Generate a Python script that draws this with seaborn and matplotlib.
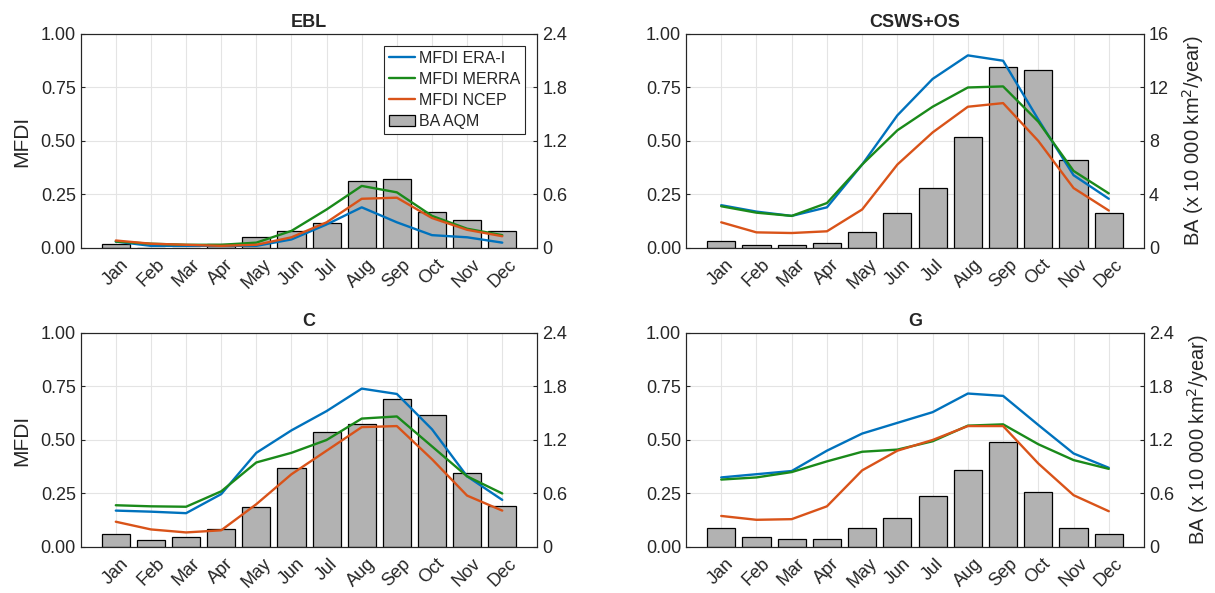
import numpy as np
import matplotlib
matplotlib.use('Agg')
import matplotlib.pyplot as plt
import seaborn as sns
from matplotlib.patches import Patch

months = ['Jan', 'Feb', 'Mar', 'Apr', 'May', 'Jun', 'Jul', 'Aug', 'Sep', 'Oct', 'Nov', 'Dec']

# EBL
ebl_era = [0.03, 0.01, 0.01, 0.01, 0.01, 0.04, 0.11, 0.19, 0.12, 0.06, 0.05, 0.025]
ebl_merra = [0.03, 0.02, 0.015, 0.015, 0.025, 0.08, 0.18, 0.29, 0.26, 0.15, 0.09, 0.06]
ebl_ncep = [0.035, 0.02, 0.015, 0.01, 0.015, 0.05, 0.12, 0.23, 0.235, 0.14, 0.085, 0.055]
ebl_ba = [0.04, 0.005, 0.005, 0.04, 0.12, 0.19, 0.28, 0.75, 0.77, 0.40, 0.31, 0.19]

# CSWS+OS
csws_era = [0.20, 0.17, 0.15, 0.19, 0.39, 0.62, 0.79, 0.90, 0.875, 0.60, 0.34, 0.23]
csws_merra = [0.195, 0.165, 0.15, 0.21, 0.39, 0.55, 0.66, 0.75, 0.755, 0.59, 0.36, 0.255]
csws_ncep = [0.12, 0.073, 0.07, 0.078, 0.18, 0.39, 0.54, 0.66, 0.677, 0.50, 0.28, 0.175]
csws_ba = [0.5, 0.2, 0.2, 0.37, 1.17, 2.6, 4.5, 8.3, 13.55, 13.3, 6.55, 2.6]

# C
c_era = [0.17, 0.165, 0.158, 0.247, 0.44, 0.545, 0.635, 0.74, 0.715, 0.55, 0.33, 0.22]
c_merra = [0.195, 0.19, 0.188, 0.26, 0.395, 0.44, 0.50, 0.60, 0.61, 0.47, 0.33, 0.25]
c_ncep = [0.118, 0.082, 0.068, 0.078, 0.20, 0.34, 0.45, 0.56, 0.565, 0.41, 0.24, 0.17]
c_ba = [0.14, 0.075, 0.11, 0.20, 0.45, 0.89, 1.29, 1.38, 1.66, 1.48, 0.83, 0.465]

# G
g_era = [0.325, 0.34, 0.355, 0.45, 0.53, 0.58, 0.63, 0.717, 0.706, 0.57, 0.437, 0.37]
g_merra = [0.315, 0.325, 0.35, 0.40, 0.445, 0.455, 0.494, 0.567, 0.573, 0.48, 0.406, 0.365]
g_ncep = [0.145, 0.127, 0.13, 0.19, 0.358, 0.45, 0.50, 0.565, 0.565, 0.39, 0.242, 0.167]
g_ba = [0.21, 0.11, 0.094, 0.094, 0.21, 0.33, 0.57, 0.86, 1.18, 0.62, 0.21, 0.14]

panels = [
    ('EBL', ebl_era, ebl_merra, ebl_ncep, ebl_ba, 2.4, ['0', '0.6', '1.2', '1.8', '2.4']),
    ('CSWS+OS', csws_era, csws_merra, csws_ncep, csws_ba, 16, ['0', '4', '8', '12', '16']),
    ('C', c_era, c_merra, c_ncep, c_ba, 2.4, ['0', '0.6', '1.2', '1.8', '2.4']),
    ('G', g_era, g_merra, g_ncep, g_ba, 2.4, ['0', '0.6', '1.2', '1.8', '2.4']),
]

c_era_col = '#0072BD'
c_merra_col = '#1a8a1a'
c_ncep_col = '#D95319'
bar_col = '#b2b2b2'

sns.set_style('white')
plt.rcParams['font.family'] = ['Liberation Sans', 'DejaVu Sans']
plt.rcParams['axes.edgecolor'] = '#262626'

fig = plt.figure(figsize=(12.15, 5.93), dpi=100)
boxes = [
    [0.0664, 0.5818, 0.3759, 0.3609],
    [0.5646, 0.5818, 0.3770, 0.3609],
    [0.0664, 0.0776, 0.3759, 0.3609],
    [0.5646, 0.0776, 0.3770, 0.3609],
]
pos = np.arange(12)

for i, (title, era, merra, ncep, ba, top, rlabels) in enumerate(panels):
    ax = fig.add_axes(boxes[i])
    sns.barplot(x=months, y=ba, ax=ax, color=bar_col, edgecolor='black',
                linewidth=0.9, width=0.8, saturation=1, errorbar=None)
    ax.set_xlim(-1, 12)
    ax.set_ylim(0, top)
    ax.set_yticks(np.linspace(0, top, 5))
    ax.set_yticklabels(rlabels)
    ax.set_xlabel('')
    ax.set_ylabel('')
    ax.grid(True, color='#e4e4e4', linewidth=0.8)
    ax.set_axisbelow(True)

    ax2 = ax.twinx()
    sns.lineplot(x=pos, y=era, ax=ax2, color=c_era_col, linewidth=1.7, label='MFDI ERA-I')
    sns.lineplot(x=pos, y=merra, ax=ax2, color=c_merra_col, linewidth=1.7, label='MFDI MERRA')
    sns.lineplot(x=pos, y=ncep, ax=ax2, color=c_ncep_col, linewidth=1.7, label='MFDI NCEP')
    ax2.set_ylim(0, 1)
    ax2.set_yticks([0, 0.25, 0.5, 0.75, 1.0])
    ax2.set_yticklabels(['0.00', '0.25', '0.50', '0.75', '1.00'])
    ax2.set_xlim(-1, 12)

    ax.yaxis.tick_right()
    ax.yaxis.set_label_position('right')
    ax2.yaxis.tick_left()
    ax2.yaxis.set_label_position('left')

    ax.set_xticks(pos)
    ax.set_xticklabels(months, rotation=45, ha='center')
    ax.tick_params(axis='y', labelsize=13, direction='in', length=3, colors='#262626')
    ax.tick_params(axis='x', labelsize=13, direction='in', length=3, colors='#262626', pad=6)
    ax2.tick_params(axis='y', labelsize=13, direction='in', length=3, colors='#262626')

    for a in (ax, ax2):
        for s in a.spines.values():
            s.set_linewidth(0.8)

    ax.set_title(title, fontsize=13, fontweight='bold', pad=5)

    if i % 2 == 0:
        ax2.set_ylabel('MFDI', fontsize=15, labelpad=7)
    else:
        ax.set_ylabel('BA (x 10 000 km$^2$/year)', fontsize=14.5, labelpad=8)

    leg = ax2.get_legend()
    if leg is not None:
        leg.remove()
    if i == 0:
        handles = ax2.get_lines()[:3]
        handles = list(handles) + [Patch(facecolor=bar_col, edgecolor='black', linewidth=0.9)]
        labels = ['MFDI ERA-I', 'MFDI MERRA', 'MFDI NCEP', 'BA AQM']
        lg = ax2.legend(handles, labels, loc='upper right', fontsize=11.5,
                        frameon=True, fancybox=False, edgecolor='#262626',
                        framealpha=1, borderaxespad=0.75, handlelength=1.6,
                        handletextpad=0.3, labelspacing=0.38, borderpad=0.3)
        lg.get_frame().set_linewidth(0.8)

fig.savefig('out.png', dpi=100)
